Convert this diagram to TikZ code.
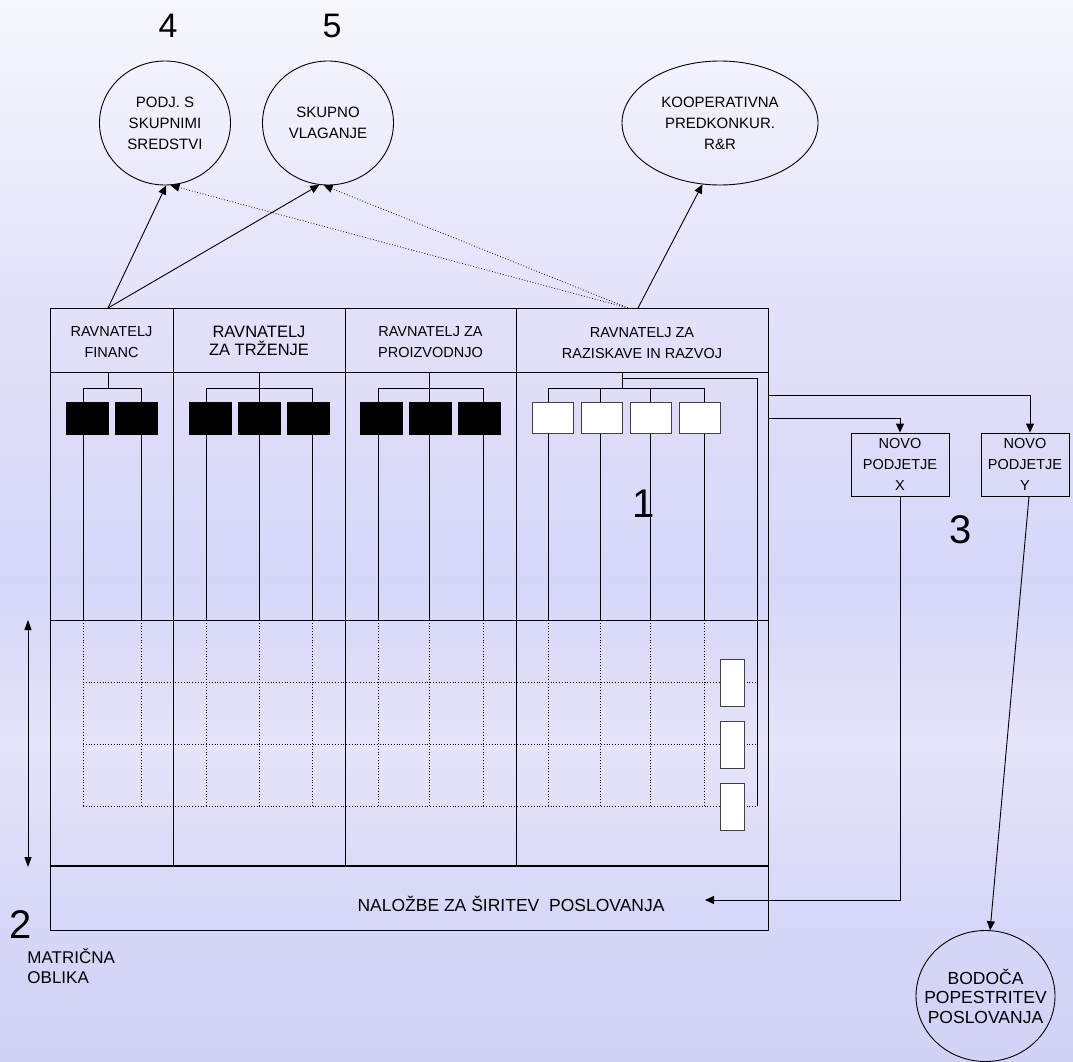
\documentclass[tikz,border=0pt]{standalone}
\usepackage{fontspec}
\setmainfont{Liberation Sans}
\usetikzlibrary{shapes.geometric, arrows.meta}

\definecolor{bgA}{RGB}{247,247,254}
\definecolor{bgB}{RGB}{226,226,250}
\definecolor{bgC}{RGB}{214,214,248}
\definecolor{bgL}{RGB}{228,228,250}
\definecolor{bgD}{RGB}{210,210,246}
% the path is fitted to the part 25bp..75bp of the shading
\pgfdeclareverticalshading{skyback}{100bp}{color(0bp)=(bgD); color(25bp)=(bgD); color(31bp)=(bgC); color(40bp)=(bgL); color(47.5bp)=(bgC); color(61bp)=(bgB); color(75bp)=(bgA); color(100bp)=(bgA)}

\newcommand{\cellfont}{\fontsize{14.5}{21}\selectfont}
\newcommand{\ovalfont}{\fontsize{15}{21}\selectfont}
\newcommand{\trzfont}{\fontsize{16.5}{18.5}\selectfont}
\newcommand{\bodfont}{\fontsize{17.5}{19.5}\selectfont}
\newcommand{\numfont}{\fontsize{34}{34}\selectfont}
\newcommand{\bignumfont}{\fontsize{40}{40}\selectfont}

\tikzset{
  oval/.style={draw, ellipse, inner sep=0pt, align=center, font=\ovalfont},
  blackbox/.style={draw, fill=black, minimum width=42pt, minimum height=32pt, inner sep=0pt},
  whitebox/.style={draw=black!75, fill=white, minimum width=41pt, minimum height=31pt, inner sep=0pt},
  tallbox/.style={draw=black!75, fill=white, minimum width=24pt, minimum height=47pt, inner sep=0pt},
  newco/.style={draw, minimum width=98pt, minimum height=63pt, inner sep=0pt, align=center, font=\cellfont},
  head/.style={align=center, font=\cellfont, inner sep=0pt},
  arr/.style={-{Triangle[length=9pt,width=8pt]}},
  dotline/.style={dotted, line width=0.8pt},
}

\begin{document}
\begin{tikzpicture}[x=1pt, y=-1pt, line width=0.9pt]
    % background
    \shade[shading=skyback] (0,0) rectangle (1073,1061);

    % matrix frame
    \draw (50,308) rectangle (768,930);
    \draw (50,372) -- (768,372);
    \draw (50,620) -- (768,620);
    \draw[line width=1.5pt] (50,866) -- (768,866);
    \foreach \x in {173,345,516}
        \draw (\x,308) -- (\x,866);

    % headings
    \node[head] (hfin) at (111.5,342) {RAVNATELJ\\FINANC};
    \node[head, font=\trzfont] (htrz) at (259,341) {RAVNATELJ\\ZA TRŽENJE};
    \node[head] (hpro) at (430.5,342) {RAVNATELJ ZA\\PROIZVODNJO};
    \node[head] (hraz) at (642,343) {RAVNATELJ ZA\\RAZISKAVE IN RAZVOJ};

    % brackets and department lines
    \foreach \s/\a/\b in {108/83/141, 259/206/312, 429/378/483, 622/548/704} {
        \draw (\s,372) -- (\s,388);
        \draw (\a,388) -- (\b,388);
    }
    \foreach \x in {83,141,206,259,312,378,429,483,548,600,650,704} {
        \draw (\x,388) -- (\x,620);
        \draw[dotline] (\x,620) -- (\x,806);
    }
    \foreach \y in {682,744,806}
        \draw[dotline] (83,\y) -- (757,\y);
    \draw (622,378) -- (757,378) -- (757,806);

    % department boxes
    \foreach \x [count=\i] in {87.5,136.5}
        \node[blackbox] (f\i) at (\x,418.5) {};
    \foreach \x [count=\i] in {210,259,308}
        \node[blackbox] (t\i) at (\x,418.5) {};
    \foreach \x [count=\i] in {381.5,430.5,479}
        \node[blackbox] (p\i) at (\x,418.5) {};
    \foreach \x [count=\i] in {552.5,601.5,650.5,699.5}
        \node[whitebox] (r\i) at (\x,418) {};
    \foreach \y [count=\i] in {682.5,744.5,806.5}
        \node[tallbox] (v\i) at (732,\y) {};

    % bottom row
    \node[font=\bodfont, inner sep=0pt] (nal) at (511,904) {NALOŽBE ZA ŠIRITEV \ POSLOVANJA};

    % ellipses
    \node[oval, minimum width=131pt, minimum height=124pt] (e4) at (165,123) {PODJ. S\\SKUPNIMI\\SREDSTVI};
    \node[oval, minimum width=131pt, minimum height=124pt] (e5) at (328,123) {SKUPNO\\VLAGANJE};
    \node[oval, minimum width=196pt, minimum height=124pt] (ekoop) at (720,123) {KOOPERATIVNA\\PREDKONKUR.\\R\&R};
    \node[oval, minimum width=139pt, minimum height=131pt,
          label={[align=center, font=\bodfont]center:BODOČA\\POPESTRITEV\\POSLOVANJA}] (ebod) at (985.5,996) {};

    % new companies
    \node[newco] (nx) at (900,464.5) {NOVO\\PODJETJE\\X};
    \node[newco, minimum width=88pt] (ny) at (1025,464.5) {NOVO\\PODJETJE\\Y};

    % numbers
    \node[font=\numfont, inner sep=0pt] (n4) at (168,26) {4};
    \node[font=\numfont, inner sep=0pt] (n5) at (332,26) {5};
    \node[font=\bignumfont, inner sep=0pt] (n1) at (644,504) {1};
    \node[font=\bignumfont, inner sep=0pt] (n3) at (961,530) {3};
    \node[font=\bignumfont, inner sep=0pt] (n2) at (20.5,925) {2};
    \node[font=\fontsize{17}{20}\selectfont, align=left, anchor=west, inner sep=0pt] (mat) at (27,966) {MATRIČNA\\OBLIKA};

    % connectors
    \coordinate (finTop) at (108,308);
    \coordinate (razTop) at (628,308);
    \coordinate (razTop2) at (638,308);
    \draw[arr] (finTop) -- (e4.271.6);
    \draw[arr] (finTop) -- (e5.262.3);
    \draw[arr, dotline] (razTop) -- (e4.275.3);
    \draw[arr, dotline] (razTop) -- (e5.266);
    \draw[arr] (razTop2) -- (ekoop.254.3);

    \coordinate (outY) at (768,395);
    \coordinate (outX) at (768,418);
    \coordinate (nalTip) at (705,900);
    \draw[arr] (outY) -| ([xshift=5pt]ny.north);
    \draw[arr] (outX) -| (nx.north);
    \draw[arr] (nx.south) |- (nalTip);
    \draw[arr] ([xshift=4pt]ny.south) -- (ebod.86);

    \coordinate (vTop) at (28,620);
    \coordinate (vBot) at (28,867);
    \draw[{Triangle[length=10pt,width=7pt]}-{Triangle[length=10pt,width=7pt]}] (vTop) -- (vBot);
\end{tikzpicture}
\end{document}
